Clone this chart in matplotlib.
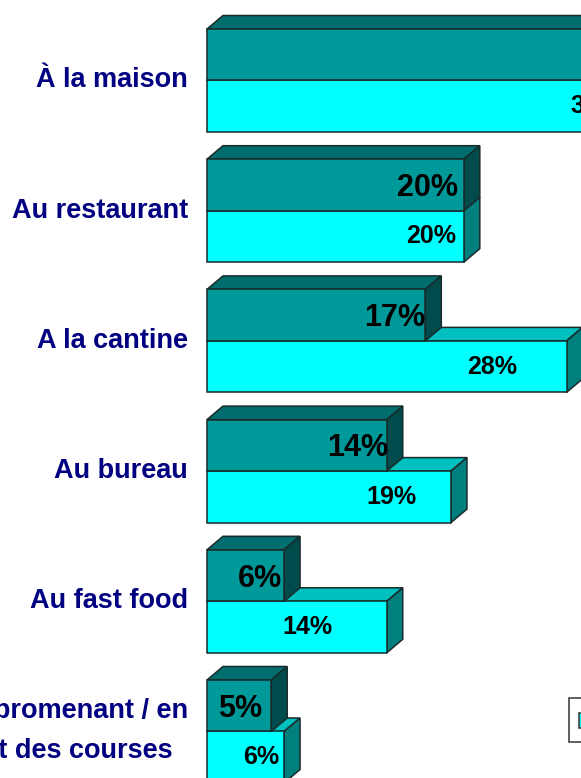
import matplotlib
matplotlib.use('Agg')
import matplotlib.pyplot as plt
from matplotlib.patches import Polygon, Rectangle

plt.rcParams['font.family'] = ['Liberation Sans', 'DejaVu Sans']

categories = ["À la maison", "Au restaurant", "A la cantine", "Au bureau", "Au fast food",
              "En me promenant / en\nfaisant des courses"]
dark_vals = [38, 20, 17, 14, 6, 5]
cyan_vals = [33, 20, 28, 19, 14, 6]

# label centre, px back from the end of the bar
dark_back = [35, 36, 31, 29, 24, 31]
cyan_back = [35, 33, 74, 60, 79, 23]

W, H = 581, 778
px_x = 12.84    # px per percent
px_y = 130.2    # px per row
x0 = 207
y0 = 80.5
bar_h = 51.5 / px_y
dx = 16 / px_x
dy = 13.5 / px_y
edge = '#1a2a2a'


def bar3d(ax, y, v, front, top, side, h=bar_h):
    # y is the bottom edge of the front face (axis inverted)
    ax.barh(y - h / 2, v, height=h, color=front, edgecolor=edge, linewidth=1.1, zorder=zo[0] + 2)
    ax.add_patch(Polygon([(0, y - h), (v, y - h), (v + dx, y - h - dy), (dx, y - h - dy)],
                         facecolor=top, edgecolor=edge, linewidth=1.1, zorder=zo[0]))
    ax.add_patch(Polygon([(v, y), (v, y - h), (v + dx, y - h - dy), (v + dx, y - dy)],
                         facecolor=side, edgecolor=edge, linewidth=1.1, zorder=zo[0] + 1))


fig = plt.figure(figsize=(W / 100, H / 100), dpi=100)
ax = fig.add_axes([0, 0, 1, 1])
ax.set_xlim(-x0 / px_x, (W - x0) / px_x)
ax.set_ylim((H - y0) / px_y, -y0 / px_y)
ax.axis('off')

zo = [2]
for i in range(len(categories)):
    zo[0] = 2 + i * 10
    bar3d(ax, i + bar_h, cyan_vals[i], '#00ffff', '#00c0c0', '#007f7f')
    zo[0] = 6 + i * 10
    bar3d(ax, i, dark_vals[i], '#009999', '#006e6e', '#004c4c')

    ax.text(dark_vals[i] - dark_back[i] / px_x, i - bar_h / 2 + 3 / px_y, "%d%%" % dark_vals[i],
            ha='center', va='center', fontsize=22, fontweight='bold', color='black', zorder=100)
    ax.text(cyan_vals[i] - cyan_back[i] / px_x, i + bar_h / 2, "%d%%" % cyan_vals[i],
            ha='center', va='center', fontsize=18, fontweight='bold', color='black', zorder=100)

    ax.text(-19 / px_x, i, categories[i], ha='right', va='center', ma='center', fontsize=19.5,
            fontweight='bold', color='#000080', linespacing=1.7)

# legend box, runs off the right edge
fig.add_artist(Rectangle((569 / W, 1 - 742 / H), 40 / W, 44 / H, transform=fig.transFigure,
                         facecolor='white', edgecolor='#333333', linewidth=1.1))
fig.add_artist(Rectangle((579 / W, 1 - 728 / H), 10 / W, 15 / H, transform=fig.transFigure,
                         facecolor='#00ffff', edgecolor='#333333', linewidth=1.1))

fig.savefig('out.png', dpi=100)
